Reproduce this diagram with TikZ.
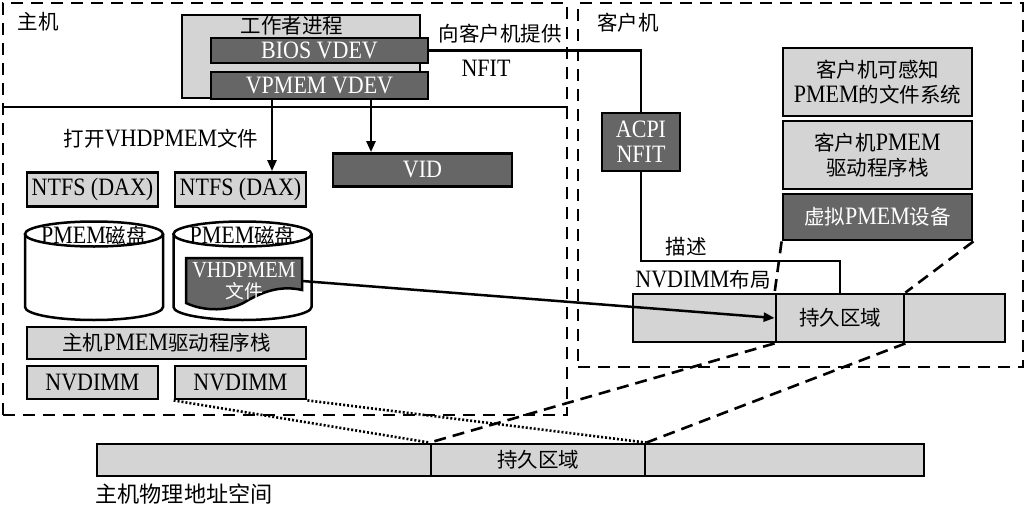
\documentclass[tikz,border=0pt]{standalone}
\usepackage{fontspec}
\setmainfont{Liberation Serif}[FakeStretch=0.88]
\newfontfamily\cjk[Scale=0.82]{Noto Sans CJK SC}
\newcommand{\zh}[1]{{\cjk #1}}
\usetikzlibrary{arrows.meta}
\definecolor{lgray}{gray}{0.83}
\definecolor{dgray}{gray}{0.40}
\tikzset{
  box/.style={draw,line width=2.8pt,fill=lgray,inner sep=0pt,align=center},
  dbox/.style={box,fill=dgray,text=white},
  region/.style={draw,line width=2.8pt,dash pattern=on 12pt off 8pt},
  conn/.style={line width=2.5pt},
  dashline/.style={line width=2.6pt,dash pattern=on 12pt off 7pt},
  dotline/.style={line width=2.6pt,dash pattern=on 2pt off 2pt},
}
\begin{document}
\begin{tikzpicture}[x=1pt,y=-1pt,font=\fontsize{25}{25}\selectfont,>={Triangle[length=11pt,width=9pt]}]
\useasboundingbox (0,0) rectangle (1025,511);
% host and guest regions
\node[region,minimum width=564,minimum height=412] (host) at (285,209) {};
\node[region,minimum width=445,minimum height=364] (guest) at (800.5,185) {};
\node (hostlbl) at (38,22) {\zh{主机}};
\node (guestlbl) at (628,23) {\zh{客户机}};
\coordinate (sep) at (0,107);
\draw[conn] (host.west |- sep) -- (host.east |- sep);
% worker process
\node[box,minimum width=238,minimum height=83] (worker) at (301,56.5) {};
\node (workerlbl) at (292,26) {\zh{工作者进程}};
\node[dbox,minimum width=217,minimum height=25] (bios) at (319.5,50.5) {BIOS VDEV};
\node[dbox,minimum width=217,minimum height=27] (vpmem) at (319.5,85.5) {VPMEM VDEV};
\node (offer) at (500,34) {\zh{向客户机提供}};
\node (offernfit) at (486,68) {NFIT};
% guest side
\node[dbox,minimum width=78,minimum height=58] (acpi) at (641,142) {ACPI\\NFIT};
\draw[conn] (bios.east) -| (acpi.north);
\node[box,minimum width=189,minimum height=68] (gfs) at (877.5,82) {\zh{客户机可感知}\\PMEM\zh{的文件系统}};
\node[box,minimum width=189,minimum height=68] (gdrv) at (877.5,155) {\zh{客户机}PMEM\\\zh{驱动程序栈}};
\node[dbox,minimum width=189,minimum height=46] (gdev) at (877.5,217) {\zh{虚拟}PMEM\zh{设备}};
\node[box,minimum width=143,minimum height=48] (layL) at (704.5,318) {};
\node[box,minimum width=128,minimum height=48] (layM) at (840,318) {\zh{持久区域}};
\node[box,minimum width=101,minimum height=48] (layR) at (954.5,318) {};
\node (desc) at (686,247) {\zh{描述}};
\node (layout) at (703,280) {NVDIMM\zh{布局}};
\coordinate (bend) at (0,261);
\draw[conn] (acpi.south) -- (acpi.south |- bend) -| (layM.north);
\draw[dashline] (gdev.south west) -- (layM.north west);
\draw[dashline] (gdev.south east) -- (layM.north east);
% host side
\node[dbox,minimum width=179,minimum height=33] (vid) at (422.5,170) {VID};
\node[box,minimum width=131,minimum height=34] (ntfsA) at (92.5,189.5) {NTFS (DAX)};
\node[box,minimum width=131,minimum height=34] (ntfsB) at (240.5,189.5) {NTFS (DAX)};
\node (openlbl) at (161,139) {\zh{打开}VHDPMEM\zh{文件}};
\coordinate (openx) at (272,0);
\coordinate (vidx) at (371,0);
\draw[conn,->] (vpmem.south -| openx) -- (ntfsB.north -| openx);
\draw[conn,->] (vpmem.south -| vidx) -- (vid.north -| vidx);
\foreach \cx/\nm in {94/A,242.5/B} {
  \draw[conn,fill=white] (\cx-69,234) -- (\cx-69,307) arc[start angle=180,end angle=0,x radius=69,y radius=13] -- (\cx+69,234);
  \draw[conn,fill=white] (\cx,234) ellipse[x radius=69,y radius=12.5];
  \node (disk\nm) at (\cx,235) {PMEM\zh{磁盘}};
}
\draw[conn,fill=dgray] (186,258) -- (302,258) -- (302,290) .. controls (280,285) and (262,292) .. (245,302) .. controls (230,311) and (205,312) .. (186,303) -- cycle;
\node[text=white,align=center,minimum width=116,inner sep=0pt,font=\fontsize{23}{21}\selectfont] (file) at (244,281) {VHDPMEM\\\zh{文件}};
\draw[conn,->] (file.east) -- (layM.west);
\node[box,minimum width=279,minimum height=32] (hostdrv) at (166.5,343) {\zh{主机}PMEM\zh{驱动程序栈}};
\node[box,minimum width=131,minimum height=33] (nvA) at (92.5,382.5) {NVDIMM};
\node[box,minimum width=131,minimum height=33] (nvB) at (240.5,382.5) {NVDIMM};
% host physical address space
\node[box,minimum width=334,minimum height=32] (physL) at (264,460) {};
\node[box,minimum width=214,minimum height=32] (physM) at (538,460) {\zh{持久区域}};
\node[box,minimum width=279,minimum height=32] (physR) at (784.5,460) {};
\node[anchor=west,font=\fontsize{27}{27}\selectfont] (physlbl) at (92,494) {\zh{主机物理地址空间}};
\draw[dotline] (nvB.south west) -- (physM.north west);
\draw[dotline] (nvB.south east) -- (physM.north east);
\draw[dashline] (layM.south west) -- (physM.north west);
\draw[dashline] (layM.south east) -- (physM.north east);
\end{tikzpicture}
\end{document}
